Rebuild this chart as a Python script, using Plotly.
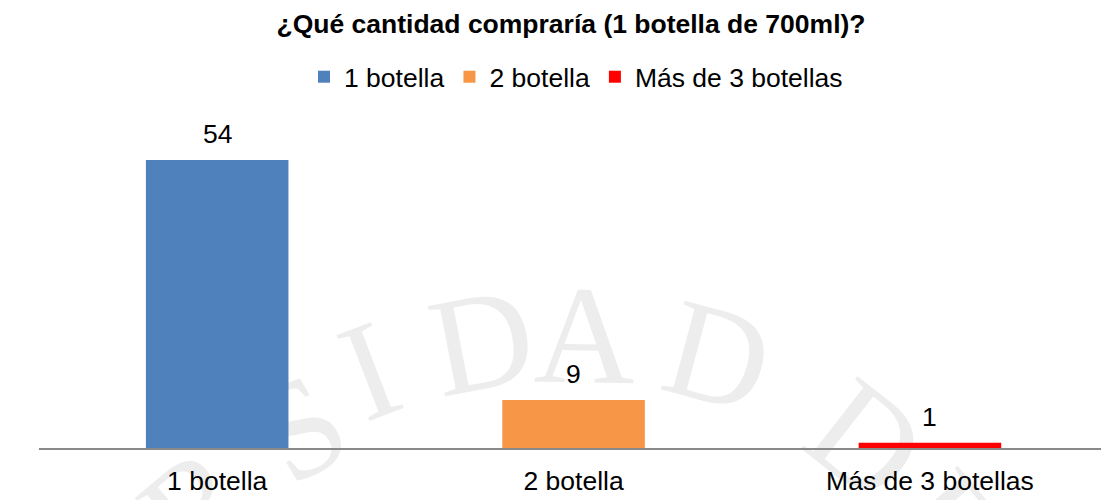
import plotly.graph_objects as go

# Survey answers: how many 700 ml bottles would be bought
categories = ["1 botella", "2 botella", "Más de 3 botellas"]
counts = [54, 9, 1]
bar_colors = ["#4F81BD", "#F79646", "#FF0000"]

title_text = "¿Qué cantidad compraría (1 botella de 700ml)?"

# Page geometry (pixels)
W, H = 1101, 500
M_L, M_R, M_T, M_B = 39, 0, 128, 52
PLOT_W = W - M_L - M_R
PLOT_H = H - M_T - M_B

FONT = "Liberation Sans, Arial"
FS = 26.5

# Faint seal lettering in the background: (letter, x px, y px, angle)
seal_letters = [
    ("R", 186, 493, -40),
    ("S", 292, 415, -31),
    ("I", 364, 356, -21),
    ("D", 479, 326, -11),
    ("A", 585, 320, 1),
    ("D", 722, 341, 15),
    ("D", 876, 428, 38),
    ("E", 960, 514, 50),
]


def to_paper(px, py):
    return (px - M_L) / PLOT_W, (H - M_B - py) / PLOT_H


fig = go.Figure()

for cat, val, col in zip(categories, counts, bar_colors):
    fig.add_trace(
        go.Bar(
            x=[cat],
            y=[val],
            name=cat,
            marker=dict(color=col, line=dict(width=0)),
            width=0.4,
            cliponaxis=False,
        )
    )

# Seal letters as labels of invisible shapes kept beneath the bars
shapes = []
for letter, px, py, ang in seal_letters:
    xp, yp = to_paper(px, py)
    shapes.append(
        dict(
            type="rect",
            xref="paper",
            yref="paper",
            x0=xp - 0.0005,
            x1=xp + 0.0005,
            y0=yp - 0.0005,
            y1=yp + 0.0005,
            layer="below",
            line=dict(width=0),
            fillcolor="rgba(0,0,0,0)",
            label=dict(
                text=letter,
                textposition="middle center",
                textangle=ang,
                xanchor="center",
                yanchor="middle",
                padding=0,
                font=dict(family="Liberation Serif", size=140, color="#EDEDED"),
            ),
        )
    )

# Value labels above each bar
annotations = []
for cat, val in zip(categories, counts):
    annotations.append(
        dict(
            text=str(val),
            x=cat,
            y=val,
            xref="x",
            yref="y",
            yanchor="middle",
            yshift=26,
            showarrow=False,
            font=dict(family=FONT, size=FS, color="#000000"),
        )
    )

fig.update_layout(
    width=W,
    height=H,
    margin=dict(l=M_L, r=M_R, t=M_T, b=M_B, pad=0),
    paper_bgcolor="white",
    plot_bgcolor="rgba(0,0,0,0)",
    font=dict(family=FONT, size=FS, color="#000000"),
    title=dict(
        text="<b>" + title_text + "</b>",
        x=571 / W,
        xref="container",
        xanchor="center",
        y=1 - 24 / H,
        yref="container",
        yanchor="middle",
        font=dict(family=FONT, size=FS, color="#000000"),
    ),
    showlegend=True,
    legend=dict(
        orientation="h",
        x=(576 - M_L) / PLOT_W,
        xanchor="center",
        y=(H - M_B - 77) / PLOT_H,
        yanchor="middle",
        font=dict(family=FONT, size=FS),
        bgcolor="rgba(0,0,0,0)",
        itemwidth=30,
        traceorder="normal",
    ),
    bargap=0.6,
    shapes=shapes,
    annotations=annotations,
)

fig.update_xaxes(
    type="category",
    range=[-0.5, 2.48],
    showline=True,
    linecolor="#898989",
    linewidth=2,
    showgrid=False,
    zeroline=False,
    ticks="outside",
    ticklen=8,
    tickcolor="rgba(0,0,0,0)",
    tickfont=dict(family=FONT, size=FS, color="#000000"),
    fixedrange=True,
)
fig.update_yaxes(
    range=[0, 60],
    visible=False,
    showgrid=False,
    zeroline=False,
    fixedrange=True,
)

fig.write_html("out.html")
